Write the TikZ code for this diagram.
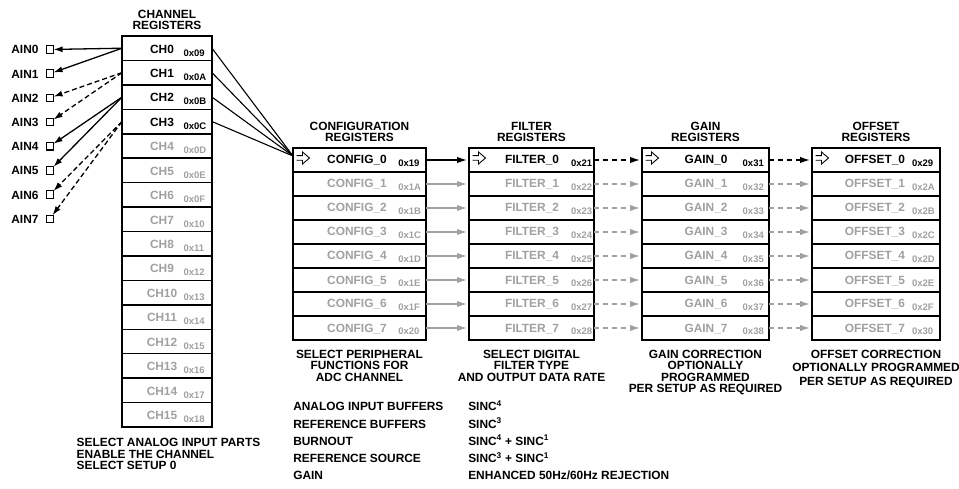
\documentclass[tikz,border=0pt]{standalone}
\usepackage{fontspec}
\setmainfont{Liberation Sans}
\usetikzlibrary{arrows.meta,calc}
\definecolor{lgray}{RGB}{160,160,160}
\begin{document}
\begin{tikzpicture}[x=1pt,y=-1pt,
  every node/.style={inner sep=0pt,outer sep=0pt},
  txt/.style={font=\bfseries\fontsize{11.9}{11.5}\selectfont},
  hexf/.style={font=\bfseries\fontsize{9.5}{10}\selectfont},
  regbox/.style={draw=black,line width=1.5pt,minimum width=#1,minimum height=24.4pt},
  grpbox/.style={draw=black,line width=1.5pt,minimum width=#1,minimum height=24pt},
  pinsq/.style={draw=black,line width=1.1pt,minimum size=7.5pt},
  solidarr/.style={line width=1.3pt,-{Latex[length=9pt,width=6pt]}},
  dasharr/.style={line width=1.3pt,dash pattern=on 5pt off 3pt,-{Latex[length=9pt,width=6pt]}},
  linkarr/.style={line width=1.4pt,-{Latex[length=10pt,width=6.5pt]},shorten >=2pt},
  linkdash/.style={line width=1.4pt,dash pattern=on 5pt off 4pt,-{Latex[length=10pt,width=6.5pt]},shorten >=2pt},
  feed/.style={line width=1.1pt},
  warrow/.pic={\draw[line width=0.9pt,line join=miter] (0,-2.3) -- (6,-2.3) -- (6,-6) -- (13,0) -- (6,6) -- (6,2.3) -- (0,2.3);}
]
\useasboundingbox (0,0) rectangle (959,489);

% ---------- channel registers ----------
\node[txt,anchor=north,align=center] (chhead) at (167,9.8) {CHANNEL\\REGISTERS};
\foreach \i/\hx/\c in {0/09/black,1/0A/black,2/0B/black,3/0C/black,4/0D/lgray,5/0E/lgray,6/0F/lgray,7/10/lgray,8/11/lgray,9/12/lgray,10/13/lgray,11/14/lgray,12/15/lgray,13/16/lgray,14/17/lgray,15/18/lgray}{
  \pgfmathsetmacro\yc{36+24.44*(\i+0.5)}
  \node[regbox=90pt] (ch\i) at (167,\yc) {};
  \node[txt,text=\c,anchor=base] (chn\i) at (162,\yc+4.8) {CH\i};
  \node[hexf,text=\c,anchor=base west] (chx\i) at (183.5,\yc+7.8) {0x\hx};
}
\node[txt,anchor=north west,align=left] (chdesc) at (76.7,438.2) {SELECT ANALOG INPUT PARTS\\ENABLE THE CHANNEL\\SELECT SETUP 0};

% ---------- analog inputs ----------
\foreach \k in {0,...,7}{
  \pgfmathsetmacro\yy{49.5+24.2*\k}
  \node[pinsq] (sq\k) at (49.8,\yy) {};
  \node[txt,anchor=base east] (ain\k) at (38.5,\yy+4.4) {AIN\k};
}
\draw[solidarr] (ch0.west) -- (sq0);
\draw[solidarr] (ch0.west) -- (sq1);
\draw[dasharr] (ch1.west) -- (sq2);
\draw[dasharr] (ch1.west) -- (sq3);
\draw[solidarr] (ch2.west) -- (sq4);
\draw[solidarr] (ch2.west) -- (sq5);
\draw[dasharr] (ch3.west) -- (sq6);
\draw[dasharr] (ch3.west) -- (sq7);

% ---------- group registers ----------
% configuration
\node[txt,anchor=north,align=center] (cfghead) at (359.5,122.1) {CONFIGURATION\\REGISTERS};
\foreach \i/\hx/\c in {0/19/black,1/1A/lgray,2/1B/lgray,3/1C/lgray,4/1D/lgray,5/1E/lgray,6/1F/lgray,7/20/lgray}{
  \pgfmathsetmacro\yc{148+24*(\i+0.5)}
  \node[grpbox=133pt] (cfg\i) at (359.5,\yc) {};
  \node[txt,text=\c,anchor=base] (cfgn\i) at (357,\yc+4) {CONFIG\_\i};
  \node[hexf,text=\c,anchor=base west] (cfgx\i) at (398.3,\yc+6.6) {0x\hx};
}
% filter
\node[txt,anchor=north,align=center] (flthead) at (531.5,122.1) {FILTER\\REGISTERS};
\foreach \i/\hx/\c in {0/21/black,1/22/lgray,2/23/lgray,3/24/lgray,4/25/lgray,5/26/lgray,6/27/lgray,7/28/lgray}{
  \pgfmathsetmacro\yc{148+24*(\i+0.5)}
  \node[grpbox=125pt] (flt\i) at (531.5,\yc) {};
  \node[txt,text=\c,anchor=base] (fltn\i) at (532,\yc+4) {FILTER\_\i};
  \node[hexf,text=\c,anchor=base west] (fltx\i) at (571,\yc+6.6) {0x\hx};
}
% gain
\node[txt,anchor=north,align=center] (gnhead) at (705.5,122.1) {GAIN\\REGISTERS};
\foreach \i/\hx/\c in {0/31/black,1/32/lgray,2/33/lgray,3/34/lgray,4/35/lgray,5/36/lgray,6/37/lgray,7/38/lgray}{
  \pgfmathsetmacro\yc{148+24*(\i+0.5)}
  \node[grpbox=127pt] (gn\i) at (705.5,\yc) {};
  \node[txt,text=\c,anchor=base] (gnn\i) at (706,\yc+4) {GAIN\_\i};
  \node[hexf,text=\c,anchor=base west] (gnx\i) at (742.7,\yc+6.6) {0x\hx};
}
% offset
\node[txt,anchor=north,align=center] (ofhead) at (876,122.1) {OFFSET\\REGISTERS};
\foreach \i/\hx/\c in {0/29/black,1/2A/lgray,2/2B/lgray,3/2C/lgray,4/2D/lgray,5/2E/lgray,6/2F/lgray,7/30/lgray}{
  \pgfmathsetmacro\yc{148+24*(\i+0.5)}
  \node[grpbox=128pt] (of\i) at (876,\yc) {};
  \node[txt,text=\c,anchor=base] (ofn\i) at (875,\yc+4) {OFFSET\_\i};
  \node[hexf,text=\c,anchor=base west] (ofx\i) at (912,\yc+6.6) {0x\hx};
}

% white arrows in row 0
\pic at ([xshift=3.5pt,yshift=2pt]cfg0.west) {warrow};
\pic at ([xshift=3.5pt,yshift=2pt]flt0.west) {warrow};
\pic at ([xshift=3.5pt,yshift=2pt]gn0.west) {warrow};
\pic at ([xshift=3.5pt,yshift=2pt]of0.west) {warrow};

% links between groups
\draw[linkarr] (cfg0.east) -- (flt0.west);
\draw[linkdash] (flt0.east) -- (gn0.west);
\draw[linkdash] (gn0.east) -- (of0.west);
\foreach \i in {1,...,7}{
  \draw[linkarr,lgray] (cfg\i.east) -- (flt\i.west);
  \draw[linkdash,lgray] (flt\i.east) -- (gn\i.west);
  \draw[linkdash,lgray] (gn\i.east) -- (of\i.west);
}

% channel to config feed lines
\coordinate (cin) at ([yshift=4pt]cfg0.west);
\foreach \i in {0,...,3}{
  \draw[feed] (ch\i.east) -- (cin);
}

% descriptions
\node[txt,anchor=north,align=center] (cfgdesc) at (359.5,349.8) {SELECT PERIPHERAL\\FUNCTIONS FOR\\ADC CHANNEL};
\node[txt,anchor=north,align=center] (fltdesc) at (531.5,349.8) {SELECT DIGITAL\\FILTER TYPE\\AND OUTPUT DATA RATE};
\node[txt,anchor=north,align=center] (gndesc) at (705.5,349.8) {GAIN CORRECTION\\OPTIONALLY\\PROGRAMMED\\PER SETUP AS REQUIRED};
\node[txt,anchor=north,align=center,font=\bfseries\fontsize{11.9}{13.5}\selectfont] (ofdesc) at (876,349.8) {OFFSET CORRECTION\\OPTIONALLY PROGRAMMED\\PER SETUP AS REQUIRED};

% lists
\foreach \j/\a/\b in {0/{ANALOG INPUT BUFFERS}/{SINC\textsuperscript{4}},
                      1/{REFERENCE BUFFERS}/{SINC\textsuperscript{3}},
                      2/{BURNOUT}/{SINC\textsuperscript{4} + SINC\textsuperscript{1}},
                      3/{REFERENCE SOURCE}/{SINC\textsuperscript{3} + SINC\textsuperscript{1}},
                      4/{GAIN}/{ENHANCED 50Hz/60Hz REJECTION}}{
  \node[txt,anchor=base west] (la\j) at (293.3,410.7+17.3*\j) {\a};
  \node[txt,anchor=base west] (lb\j) at (468.3,410.7+17.3*\j) {\b};
}
\end{tikzpicture}
\end{document}
